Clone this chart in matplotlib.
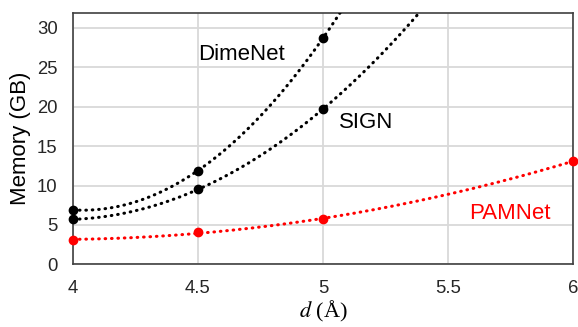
import numpy as np
import matplotlib.pyplot as plt

plt.rcParams['font.family'] = ['Liberation Sans', 'DejaVu Sans']
plt.rcParams['mathtext.fontset'] = 'stix'

# data
d_dimenet = [4.0, 4.5, 5.0]
mem_dimenet = [6.9, 11.9, 28.7]
d_sign = [4.0, 4.5, 5.0]
mem_sign = [5.7, 9.5, 19.7]
d_pamnet = [4.0, 4.5, 5.0, 6.0]
mem_pamnet = [3.1, 4.1, 5.7, 13.1]

x_ticks = [4, 4.5, 5, 5.5, 6]
y_ticks = [0, 5, 10, 15, 20, 25, 30]

fig = plt.figure(figsize=(5.78, 3.27), dpi=100)
ax = fig.add_axes([0.1263, 0.1917, 0.865, 0.7676])

xs = np.linspace(4, 6, 400)
for xd, yd, col in [(d_dimenet, mem_dimenet, 'black'),
                    (d_sign, mem_sign, 'black'),
                    (d_pamnet, mem_pamnet, '#ff0000')]:
    # polynomial trendline (order 2), like the spreadsheet one
    coef = np.polyfit(xd, yd, 2)
    ax.plot(xs, np.polyval(coef, xs), color=col, linestyle=(0, (0.2, 1.9)),
            linewidth=2.2, dash_capstyle='round', zorder=3)
    ax.plot(xd, yd, 'o', color=col, markersize=6, zorder=4, clip_on=False)

ax.text(4.5, 26.6, 'DimeNet', fontsize=16, va='center', ha='left')
ax.text(5.065, 18.05, 'SIGN', fontsize=16, va='center', ha='left')
ax.text(5.585, 6.5, 'PAMNet', fontsize=16, va='center', ha='left', color='#ff0000')

ax.set_xlim(4, 6)
ax.set_ylim(0, 31.85)
ax.set_xticks(x_ticks)
ax.set_xticklabels(['4', '4.5', '5', '5.5', '6'])
ax.set_yticks(y_ticks)
ax.tick_params(length=0, labelsize=13.3, pad=11, colors='#262626')
ax.grid(True, color='#d9d9d9', linewidth=1.3)
ax.set_axisbelow(True)
for s in ax.spines.values():
    s.set_color('#404040')
    s.set_linewidth(1.2)

ax.set_ylabel('Memory (GB)', fontsize=16, labelpad=4)
ax.set_xlabel(r'$d$ (Å)', fontsize=16, family=['Liberation Serif'], labelpad=2)

fig.savefig('out.png', dpi=100)
